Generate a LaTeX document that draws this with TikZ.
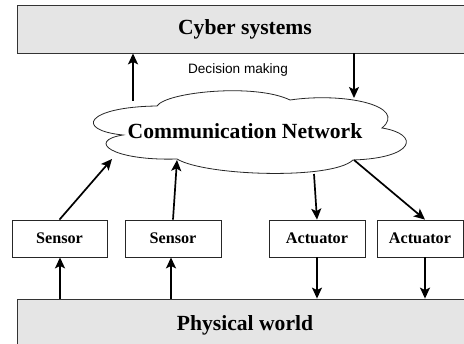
\documentclass[tikz,border=0pt]{standalone}
\usepackage{fontspec}
\setmainfont{Liberation Serif}
\newfontfamily\arialf{Liberation Sans}
\usetikzlibrary{arrows.meta}
\begin{document}
\begin{tikzpicture}[x=1pt,y=-1pt,
  band/.style={draw=black!80, line width=0.8pt, fill=black!10, minimum width=456pt, inner sep=0pt,
    font=\bfseries\fontsize{21.6}{24}\selectfont},
  dev/.style={draw=black!85, line width=0.8pt, fill=white, minimum height=37pt, inner sep=0pt,
    font=\bfseries\fontsize{16.2}{18}\selectfont},
  cloudline/.style={draw=black!85, line width=0.8pt, fill=white},
  arr/.style={line width=1.7pt, -{Stealth[length=11pt,width=10pt,inset=2.5pt]}}]
\useasboundingbox (0,0) rectangle (464,344);
% bands
\node[band, minimum height=48pt] (cyber) at (245,29) {Cyber systems};
\node[band, minimum height=52pt] (phys) at (245,325) {Physical world};
% cloud
\draw[cloudline] (157,106)
  .. controls (166,92) and (255,83) .. (290,100)
  .. controls (345,92) and (408,106) .. (382,128)
  .. controls (420,134) and (416,158) .. (353,160)
  .. controls (332,180) and (205,176) .. (177,159)
  .. controls (112,161) and (86,141) .. (123,135)
  .. controls (74,130) and (86,107) .. cycle;
\node[font=\bfseries\fontsize{21.6}{24}\selectfont, inner sep=0pt] (cn) at (245,131) {Communication Network};
\node[font=\arialf\fontsize{13.6}{16}\selectfont, inner sep=0pt] (dm) at (238,70) {Decision making};
% cloud anchor points
\coordinate (cu1) at (133,101);
\coordinate (cd1) at (354,98);
\coordinate (cs1) at (112,159);
\coordinate (cs2) at (177,160);
\coordinate (ca1) at (314,174);
\coordinate (ca2) at (354,160);
% devices
\node[dev, minimum width=95pt] (s1) at (59.5,238.5) {Sensor};
\node[dev, minimum width=96pt] (s2) at (173,238.5) {Sensor};
\node[dev, minimum width=96pt] (a1) at (317,238.5) {Actuator};
\node[dev, minimum width=86pt] (a2) at (420,238.5) {Actuator};
% arrows cloud <-> cyber
\draw[arr] (cu1) -- (cu1 |- cyber.south);
\draw[arr] (cd1 |- cyber.south) -- (cd1);
% sensors -> cloud
\draw[arr] (s1.north) -- (cs1);
\draw[arr] (s2.north) -- (cs2);
% cloud -> actuators
\draw[arr] (ca1) -- (a1.north);
\draw[arr] (ca2) -- (a2.north -| 425,0);
% physical <-> devices
\draw[arr] (phys.north -| 60,0) -- (s1.south -| 60,0);
\draw[arr] (phys.north -| 171,0) -- (s2.south -| 171,0);
\draw[arr] (a1.south) -- (a1.south |- phys.north);
\draw[arr] (a2.south -| 425,0) -- (phys.north -| 425,0);
\end{tikzpicture}
\end{document}
